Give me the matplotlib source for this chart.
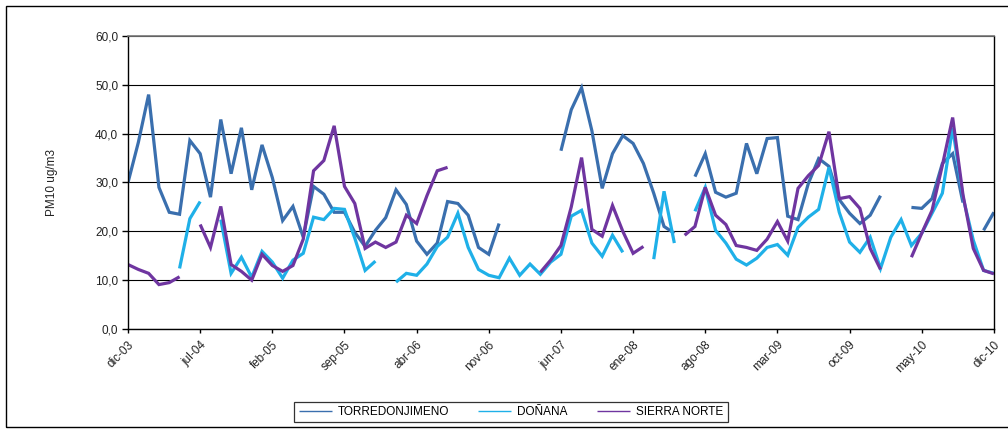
import numpy as np
import matplotlib
matplotlib.use("Agg")
import matplotlib.pyplot as plt
from matplotlib.patches import Rectangle

plt.rcParams['font.family'] = ['Liberation Sans', 'DejaVu Sans']

nan = np.nan

# Monthly PM10 means, dic-03 .. dic-10 (85 months); nan = no data
torredonjimeno = [
    30.0, 38.2, 48.0, 29.0, 23.9, 23.5, 38.6, 35.9, 27.0, 42.9,
    31.8, 41.2, 28.5, 37.7, 31.0, 22.2, 25.1, 18.8, 29.2, 27.6,
    23.9, 23.9, 19.8, 16.9, 20.2, 22.8, 28.5, 25.5, 18.0, 15.3,
    17.6, 26.1, 25.7, 23.3, 16.7, 15.3, 21.6, nan, nan, nan,
    nan, nan, 36.5, 44.9, 49.4, 40.6, 28.8, 35.9, 39.6, 38.0,
    33.9, 27.8, 21.0, 19.6, nan, 31.2, 35.9, 28.0, 27.0, 27.8,
    38.0, 31.8, 39.0, 39.2, 23.1, 22.4, 29.8, 34.9, 33.3, 26.5,
    23.7, 21.6, 23.3, 27.3, nan, nan, 24.9, 24.7, 26.7, 33.9,
    35.9, 25.9, nan, 20.2, 23.9,
]

donana = [
    nan, nan, nan, nan, nan, 12.4, 22.6, 26.1, nan, 22.4,
    11.4, 14.7, 10.6, 15.9, 13.7, 10.4, 14.1, 15.5, 22.9, 22.4,
    24.7, 24.5, 18.6, 12.0, 13.9, nan, 9.6, 11.4, 11.0, 13.3,
    16.9, 18.8, 23.7, 16.7, 12.2, 11.0, 10.5, 14.5, 11.0, 13.3,
    11.2, 13.7, 15.3, 23.1, 24.3, 17.6, 14.9, 19.2, 15.7, nan,
    nan, 14.3, 28.2, 17.6, nan, 24.1, 29.0, 20.2, 17.6, 14.3,
    13.1, 14.5, 16.7, 17.3, 15.1, 20.8, 22.9, 24.5, 33.1, 23.9,
    17.8, 15.7, 18.8, 12.4, 18.8, 22.4, 17.1, 19.6, 23.7, 27.8,
    41.2, 27.0, 18.2, 12.0, 11.4,
]

sierra_norte = [
    13.2, 12.2, 11.4, 9.1, 9.5, 10.7, nan, 21.4, 16.7, 25.1,
    13.2, 11.8, 10.0, 15.3, 13.0, 11.8, 13.0, 18.4, 32.4, 34.5,
    41.6, 29.2, 25.7, 16.5, 17.8, 16.7, 17.8, 23.3, 21.6, 27.3,
    32.4, 33.1, nan, nan, nan, nan, nan, nan, nan, nan,
    11.6, 14.1, 17.1, 25.0, 35.1, 20.4, 19.0, 25.3, 20.0, 15.5,
    16.9, nan, nan, nan, 19.2, 21.0, 29.0, 23.3, 21.4, 17.1,
    16.7, 16.1, 18.4, 22.0, 18.0, 28.8, 31.4, 33.5, 40.4, 26.7,
    27.1, 24.7, 16.5, 12.2, nan, nan, 14.7, 19.6, 24.3, 33.5,
    43.3, 27.5, 16.5, 12.0, 11.3,
]

tick_labels = ["dic-03", "jul-04", "feb-05", "sep-05", "abr-06", "nov-06",
               "jun-07", "ene-08", "ago-08", "mar-09", "oct-09", "may-10",
               "dic-10"]
tick_step = 7

series = [
    ("TORREDONJIMENO", torredonjimeno, "#3A6FAE"),
    ("DOÑANA", donana, "#1FB0E8"),
    ("SIERRA NORTE", sierra_norte, "#6F35A0"),
]

fig = plt.figure(figsize=(10.08, 4.32), dpi=100)
ax = fig.add_axes([0.127, 0.2384, 0.859, 0.6783])

months = np.arange(len(torredonjimeno))
for name, values, color in series:
    ax.plot(months, values, color=color, lw=2.3, label=name,
            solid_joinstyle='miter', solid_capstyle='butt')

ax.set_xlim(0, len(months) - 1)
ax.set_ylim(0, 60)
ax.set_yticks(np.arange(0, 61, 10))
ax.set_yticklabels([f"{v:.1f}".replace(".", ",") for v in np.arange(0, 61, 10)],
                   fontsize=8.5, color="#222222")
ax.set_xticks(np.arange(0, len(months), tick_step))
ax.set_xticklabels(tick_labels, rotation=45, ha='right', rotation_mode='anchor',
                   fontsize=8.5, color="#222222")
ax.tick_params(axis='y', direction='out', length=4, width=1, pad=3)
ax.tick_params(axis='x', direction='out', length=3, width=1, pad=4)

ax.grid(axis='y', color='black', lw=0.8)
ax.set_axisbelow(True)
for side in ['left', 'bottom', 'right']:
    ax.spines[side].set_color('black')
    ax.spines[side].set_linewidth(1.0)
ax.spines['top'].set_color('#777777')
ax.spines['top'].set_linewidth(1.2)

ax.set_ylabel("PM10 ug/m3", fontsize=8.5, color="#222222", labelpad=27)

leg = fig.legend(loc='center', bbox_to_anchor=(0.507, 0.046), ncol=3,
                 fontsize=8.5, frameon=True, fancybox=False,
                 handlelength=2.8, handletextpad=0.5, columnspacing=2.5,
                 borderpad=0.35, borderaxespad=0)
leg.get_frame().set_edgecolor('black')
leg.get_frame().set_linewidth(0.9)
for line in leg.get_lines():
    line.set_linewidth(1.0)

# outer chart frame
fig.patches.append(Rectangle((6 / 1008, 5 / 432), 1.1, 421 / 432,
                             transform=fig.transFigure, fill=False,
                             edgecolor='black', lw=1.0))

fig.savefig("out.png", dpi=100)
